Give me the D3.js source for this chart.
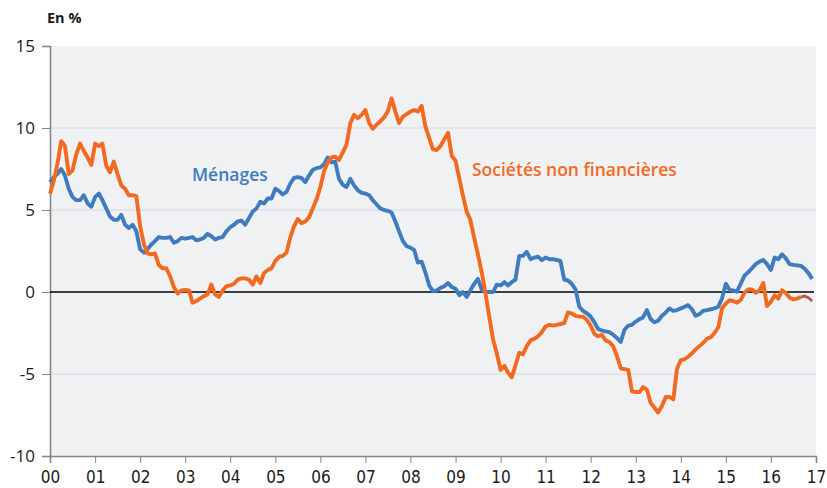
<!DOCTYPE html>
<html>
<head>
<meta charset="utf-8">
<script src="https://cdn.jsdelivr.net/npm/d3@7"></script>
<style>
  html, body { margin: 0; padding: 0; background: #ffffff; }
  svg { display: block; }
</style>
</head>
<body>
<svg id="chart" width="827" height="488"></svg>
<script>
// Monthly year-on-year growth of credit (%), January 2000 to December 2016
const startYear = 2000;
const endYear = 2017;

const yTicks = [15, 10, 5, 0, -5, -10];
const yGrid = [10, 5, -5];

const seriesNames = ["Ménages", "Sociétés non financières"];

const menages = [
  6.7, 7.0, 7.2, 7.5, 7.1, 6.3, 5.8, 5.6, 5.6, 5.9, 5.4, 5.2,
  5.8, 6.0, 5.6, 5.1, 4.6, 4.4, 4.4, 4.7, 4.1, 3.9, 4.1, 3.7,
  2.6, 2.4, 2.6, 2.9, 3.1, 3.35, 3.3, 3.3, 3.35, 3.0, 3.1, 3.3,
  3.25, 3.3, 3.35, 3.15, 3.2, 3.3, 3.55, 3.4, 3.2, 3.3, 3.35, 3.7,
  3.95, 4.1, 4.3, 4.35, 4.1, 4.5, 4.9, 5.1, 5.5, 5.4, 5.7, 5.7,
  6.3, 6.15, 5.95, 6.1, 6.6, 6.95, 7.0, 6.95, 6.7, 7.1, 7.45, 7.55,
  7.6, 7.8, 8.2, 7.9, 7.95, 6.9, 6.55, 6.4, 6.9, 6.5, 6.2, 6.05,
  6.0, 5.9, 5.6, 5.35, 5.1, 5.0, 4.95, 4.85, 4.3, 3.7, 3.1, 2.8,
  2.7, 2.55, 1.8, 1.85, 1.2, 0.4, 0.05, 0.1, 0.25, 0.35, 0.55, 0.3,
  0.2, -0.2, 0.0, -0.3, 0.1, 0.5, 0.8, 0.15, 0.0, 0.0, 0.0, 0.45,
  0.4, 0.6, 0.4, 0.6, 0.75, 2.2, 2.2, 2.45, 2.0, 2.1, 2.15, 1.95,
  2.1, 2.0, 2.0, 1.95, 1.9, 0.75, 0.7, 0.5, 0.15, -0.9, -1.15, -1.3,
  -1.5, -1.85, -2.25, -2.35, -2.4, -2.45, -2.6, -2.8, -3.05, -2.3, -2.05, -2.0,
  -1.8, -1.65, -1.55, -1.1, -1.65, -1.85, -1.75, -1.45, -1.25, -1.0, -1.15, -1.1,
  -1.0, -0.9, -0.8, -1.05, -1.45, -1.35, -1.15, -1.1, -1.05, -1.0, -0.9, -0.4,
  0.5, 0.12, 0.1, 0.02, 0.5, 1.0, 1.2, 1.45, 1.7, 1.85, 1.95, 1.7,
  1.35, 2.1, 2.0, 2.3, 2.05, 1.7, 1.65, 1.62, 1.59, 1.42, 1.15, 0.8
];

const societes = [
  6.0, 6.8, 7.8, 9.2, 8.9, 7.2, 7.4, 8.4, 9.05, 8.6, 8.2, 7.75,
  9.05, 8.9, 9.05, 7.7, 7.3, 7.95, 7.2, 6.5, 6.3, 5.9, 5.9, 5.85,
  4.0, 2.9, 2.35, 2.3, 2.35, 1.65, 1.45, 1.45, 0.95, 0.3, -0.1, 0.1,
  0.12, 0.1, -0.65, -0.55, -0.4, -0.25, -0.15, 0.45, -0.15, -0.3, 0.1, 0.35,
  0.4, 0.5, 0.75, 0.83, 0.83, 0.75, 0.45, 0.95, 0.55, 1.15, 1.35, 1.45,
  1.9, 2.15, 2.2, 2.4, 3.3, 4.0, 4.45, 4.2, 4.3, 4.55, 5.1, 5.65,
  6.4, 7.4, 7.9, 8.2, 8.25, 8.05, 8.5, 9.0, 10.3, 10.8, 10.6, 10.8,
  11.1, 10.3, 9.95, 10.2, 10.4, 10.65, 11.0, 11.8, 11.0, 10.3, 10.7, 10.85,
  11.0, 11.1, 11.0, 11.35, 10.1, 9.4, 8.7, 8.66, 8.9, 9.3, 9.7, 8.3,
  8.0, 6.9, 5.9, 4.9, 4.4, 3.3, 2.3, 1.2, -0.1, -1.5, -2.9, -3.75,
  -4.75, -4.5, -4.9, -5.2, -4.5, -3.7, -3.8, -3.3, -2.95, -2.85, -2.7, -2.45,
  -2.1, -2.0, -2.05, -2.0, -1.95, -1.9, -1.25, -1.3, -1.45, -1.5, -1.5, -1.7,
  -2.05, -2.55, -2.7, -2.62, -2.95, -3.05, -3.3, -3.9, -4.65, -4.7, -4.75, -6.05,
  -6.1, -6.1, -5.8, -5.95, -6.75, -7.05, -7.35, -6.95, -6.4, -6.4, -6.55, -4.7,
  -4.15, -4.1, -3.95, -3.75, -3.5, -3.3, -3.1, -2.85, -2.75, -2.5, -2.15, -1.0,
  -0.7, -0.5, -0.55, -0.65, -0.5, -0.05, 0.16, 0.15, -0.05, 0.1, 0.55, -0.85,
  -0.6, -0.2, -0.4, 0.1, -0.05, -0.35, -0.45, -0.4, -0.3, -0.25, -0.35, -0.55
];

// The last months of the corporate series are provisional figures
const provisionalFrom = 200;

const colors = {
  menages: "#3f7cbf",
  societes: "#f26a21",
  provisional: "#b9554a",
  plotBg: "#f0f1f3",
  grid: "#d6d8db",
  axis: "#858585",
  text: "#1a1a1a"
};

const svg = d3.select("#chart");
const margin = { left: 50, right: 11, top: 46, bottom: 32 };
const W = 827, H = 488;

const x = d3.scaleTime()
  .domain([new Date(startYear, 0, 1), new Date(endYear, 0, 1)])
  .range([margin.left, W - margin.right]);

const y = d3.scaleLinear()
  .domain([-10, 15])
  .range([H - margin.bottom, margin.top]);

const monthDate = i => new Date(startYear, i, 1);

// Plot background
svg.append("rect")
  .attr("x", x.range()[0])
  .attr("y", y(15))
  .attr("width", x.range()[1] - x.range()[0])
  .attr("height", y(-10) - y(15))
  .attr("fill", colors.plotBg);

// Horizontal gridlines
svg.append("g")
  .selectAll("line")
  .data(yGrid)
  .join("line")
  .attr("x1", x.range()[0])
  .attr("x2", x.range()[1])
  .attr("y1", d => y(d))
  .attr("y2", d => y(d))
  .attr("stroke", colors.grid)
  .attr("stroke-width", 1);

// Y axis
const yAxis = svg.append("g")
  .attr("transform", `translate(${margin.left},0)`)
  .call(d3.axisLeft(y).tickValues(yTicks).tickSize(8).tickPadding(7).tickFormat(d => String(d)));
yAxis.select(".domain").attr("stroke", colors.axis).attr("stroke-width", 1.6);
yAxis.selectAll(".tick line").attr("stroke", colors.axis).attr("stroke-width", 1);
yAxis.selectAll(".tick text")
  .attr("font-family", "'Open Sans', sans-serif")
  .attr("font-size", 17)
  .attr("fill", colors.text)
  .attr("dy", "0.32em");

// X axis
const xAxis = svg.append("g")
  .attr("transform", `translate(0,${y(-10)})`)
  .call(d3.axisBottom(x).ticks(d3.timeYear.every(1)).tickSize(7).tickPadding(8).tickFormat(d3.timeFormat("%y")));
xAxis.select(".domain").attr("stroke", colors.axis).attr("stroke-width", 1.6);
xAxis.selectAll(".tick line").attr("stroke", colors.axis).attr("stroke-width", 1);
xAxis.selectAll(".tick text")
  .attr("font-family", "'Liberation Sans Narrow', 'DejaVu Sans Condensed', sans-serif")
  .attr("font-size", 17)
  .attr("fill", colors.text);

// Zero line
svg.append("line")
  .attr("x1", x.range()[0])
  .attr("x2", x.range()[1] - 2)
  .attr("y1", y(0))
  .attr("y2", y(0))
  .attr("stroke", "#000")
  .attr("stroke-width", 1.5);

const line = d3.line()
  .x(d => x(monthDate(d.i)))
  .y(d => y(d.v))
  .curve(d3.curveLinear);

const toPoints = arr => arr.map((v, i) => ({ i, v }));

svg.append("path")
  .datum(toPoints(menages))
  .attr("d", line)
  .attr("fill", "none")
  .attr("stroke", colors.menages)
  .attr("stroke-width", 3.9)
  .attr("stroke-linejoin", "round");

const socPts = toPoints(societes);
svg.append("path")
  .datum(socPts.slice(0, provisionalFrom + 1))
  .attr("d", line)
  .attr("fill", "none")
  .attr("stroke", colors.societes)
  .attr("stroke-width", 3.9)
  .attr("stroke-linejoin", "round");
svg.append("path")
  .datum(socPts.slice(provisionalFrom))
  .attr("d", line)
  .attr("fill", "none")
  .attr("stroke", colors.provisional)
  .attr("stroke-width", 2.8)
  .attr("stroke-linejoin", "round");

// Series labels
svg.append("text")
  .attr("x", 192)
  .attr("y", 181)
  .attr("font-family", "'Open Sans', sans-serif")
  .attr("font-weight", 600)
  .attr("font-size", 17.5)
  .attr("fill", colors.menages)
  .text(seriesNames[0]);

svg.append("text")
  .attr("x", 472)
  .attr("y", 176)
  .attr("font-family", "'Open Sans', sans-serif")
  .attr("font-weight", 600)
  .attr("font-size", 17.5)
  .attr("fill", colors.societes)
  .text(seriesNames[1]);

// Unit label
svg.append("text")
  .attr("x", 47)
  .attr("y", 23)
  .attr("font-family", "'Open Sans', sans-serif")
  .attr("font-weight", 700)
  .attr("font-size", 14.5)
  .attr("fill", colors.text)
  .text("En %");
</script>
</body>
</html>
